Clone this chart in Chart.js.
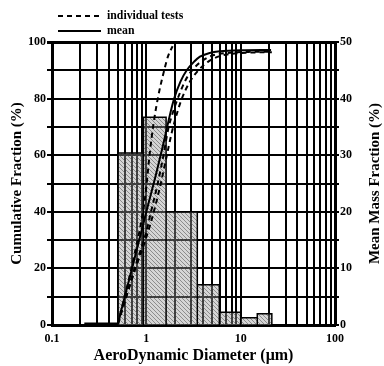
<!DOCTYPE html>
<html>
<head>
<meta charset="utf-8">
<script src="https://cdn.jsdelivr.net/npm/chart.js@4.4.1/dist/chart.umd.min.js"></script>
<style>
  html, body { margin: 0; padding: 0; background: #fff; }
</style>
</head>
<body>
<canvas id="chart" width="384" height="366"></canvas>
<script>
// mass fraction histogram: bin edges (um) and mass fraction per bin (%)
const binEdges = [0.5, 0.93, 1.62, 3.47, 5.94, 10, 15, 21.4];
const massFraction = [30.4, 36.7, 20, 7.1, 2.25, 1.3, 2.0];

// cumulative fraction curves: diameter (um) and cumulative fraction (%)
const meanD = [0.22, 0.5, 0.53, 0.7, 1.0, 1.25, 1.5, 1.95, 2.3, 2.68, 3.2, 3.7, 4.7, 6, 10, 21];
const meanF = [0.5, 0.5, 3.9, 19.5, 40, 52.5, 63.4, 79.5, 86, 90, 93, 94.8, 96.1, 96.7, 97.1, 97.2];

const testAD = [0.5, 0.75, 0.97, 1.09, 1.19, 1.34, 1.52, 1.7, 1.9];
const testAF = [0.5, 25, 45, 61, 71, 81, 89, 95, 98.5];

const testBD = [0.5, 0.75, 1.0, 1.12, 1.3, 1.52, 1.7, 1.95, 2.15, 2.6, 3.15, 4.0, 5.1, 7.7, 12, 21.4];
const testBF = [0.5, 20, 33, 40, 49, 60, 69, 76, 80, 86.5, 90.5, 93.6, 95.3, 96.2, 96.5, 96.6];

const testCD = [0.5, 0.75, 1.0, 1.2, 1.4, 1.65, 1.86, 2.1, 2.38, 2.9, 3.56, 4.5, 6, 9, 14, 21.4];
const testCF = [0.5, 19, 31, 40, 49, 60, 68, 74.5, 80, 86, 90, 93, 95, 96, 96.3, 96.4];

// tick labels
const xTickLabels = [0.1, 1, 10, 100];
const yTickLabels = [0, 20, 40, 60, 80, 100];
const y2TickLabels = [0, 10, 20, 30, 40, 50];
const legendLabels = ['individual tests', 'mean'];

const FONT = "'Liberation Serif', 'Times New Roman', serif";
Chart.defaults.font.family = FONT;
Chart.defaults.font.weight = 'bold';
Chart.defaults.color = '#000';

function pts(xs, ys) {
  return xs.map((x, i) => ({x: x, y: ys[i]}));
}

// outline of the histogram bars, one rectangle per bin
const histPts = [];
massFraction.forEach((h, i) => {
  histPts.push({x: binEdges[i], y: 0}, {x: binEdges[i], y: h},
               {x: binEdges[i + 1], y: h}, {x: binEdges[i + 1], y: 0});
});

// light grey hatch, see-through so the grid stays black on top of it
const pc = document.createElement('canvas');
pc.width = 4; pc.height = 4;
const pg = pc.getContext('2d');
pg.fillStyle = 'rgba(150,150,150,0.4)';
pg.fillRect(0, 0, 4, 4);
pg.strokeStyle = 'rgba(80,80,80,0.55)';
pg.lineWidth = 1;
pg.beginPath();
pg.moveTo(0, 0); pg.lineTo(4, 4);
pg.moveTo(-1, 3); pg.lineTo(1, 5);
pg.moveTo(3, -1); pg.lineTo(5, 1);
pg.stroke();
const hatch = pg.createPattern(pc, 'repeat');

// grid positions for the log axis: 1..9 in each decade
const xGrid = [];
[0.1, 1, 10].forEach(d => {
  for (let k = 1; k <= 9; k++) xGrid.push(Number((k * d).toPrecision(3)));
});
xGrid.push(100);

const curve = {
  showLine: true,
  pointRadius: 0,
  borderColor: '#000',
  borderWidth: 2,
  fill: false,
  cubicInterpolationMode: 'monotone',
  yAxisID: 'y',
  order: 0
};

const extras = {
  id: 'extras',
  afterDraw(chart) {
    const ctx = chart.ctx;
    const a = chart.chartArea;
    ctx.save();
    ctx.strokeStyle = '#000';
    ctx.lineWidth = 2;
    ctx.setLineDash([5, 4]);
    ctx.beginPath(); ctx.moveTo(58, 16); ctx.lineTo(101, 16); ctx.stroke();
    ctx.setLineDash([]);
    ctx.beginPath(); ctx.moveTo(58, 31); ctx.lineTo(101, 31); ctx.stroke();
    ctx.fillStyle = '#000';
    ctx.font = 'bold 11.8px ' + FONT;
    ctx.textBaseline = 'middle';
    ctx.fillText(legendLabels[0], 107, 16);
    ctx.fillText(legendLabels[1], 107, 31);
    // right axis title reads bottom to top like the left one
    ctx.translate(375, (a.top + a.bottom) / 2);
    ctx.rotate(-Math.PI / 2);
    ctx.font = 'bold 15px ' + FONT;
    ctx.textAlign = 'center';
    ctx.fillText('Mean Mass Fraction (%)', 0, 0);
    ctx.restore();
  }
};

new Chart(document.getElementById('chart'), {
  type: 'scatter',
  data: {
    datasets: [
      Object.assign({}, curve, {label: 'mean', data: pts(meanD, meanF)}),
      Object.assign({}, curve, {label: 'test 1', data: pts(testAD, testAF), borderDash: [5, 4]}),
      Object.assign({}, curve, {label: 'test 2', data: pts(testBD, testBF), borderDash: [5, 4]}),
      Object.assign({}, curve, {label: 'test 3', data: pts(testCD, testCF), borderDash: [5, 4]}),
      {
        label: 'mass fraction',
        data: histPts,
        showLine: true,
        pointRadius: 0,
        borderColor: '#000',
        borderWidth: 1.5,
        backgroundColor: hatch,
        fill: 'origin',
        tension: 0,
        yAxisID: 'y2',
        order: 10
      }
    ]
  },
  options: {
    responsive: false,
    animation: false,
    devicePixelRatio: 1,
    layout: { padding: { top: 42, left: 0, right: 0, bottom: 0 } },
    plugins: { legend: { display: false }, tooltip: { enabled: false } },
    scales: {
      x: {
        type: 'logarithmic',
        position: 'bottom',
        min: 0.1,
        max: 100,
        afterBuildTicks: s => { s.ticks = xGrid.map(v => ({value: v})); },
        afterFit: s => { s.height = 41; },
        ticks: {
          autoSkip: false,
          maxRotation: 0,
          padding: 7,
          font: { size: 12, weight: 'bold' },
          callback: v => xTickLabels.includes(v) ? String(v) : ''
        },
        grid: {
          color: '#000',
          lineWidth: c => c.tick && c.tick.value === 100 ? 3 : 2,
          drawTicks: false
        },
        border: { color: '#000', width: 3 },
        title: {
          display: true,
          text: 'AeroDynamic Diameter (\u03bcm)',
          font: { size: 16, weight: 'bold' },
          padding: { top: 0, bottom: 1 }
        }
      },
      y: {
        position: 'left',
        min: 0,
        max: 100,
        afterFit: s => { s.width = 52; },
        ticks: {
          stepSize: 10,
          padding: 1,
          font: { size: 12, weight: 'bold' },
          callback: v => yTickLabels.includes(v) ? v : ''
        },
        grid: {
          color: '#000',
          lineWidth: c => c.tick && c.tick.value === 100 ? 3 : 2,
          tickLength: 5
        },
        border: { color: '#000', width: 3 },
        title: {
          display: true,
          text: 'Cumulative Fraction (%)',
          font: { size: 15, weight: 'bold' },
          padding: { top: 8, bottom: 0 }
        }
      },
      y2: {
        position: 'right',
        min: 0,
        max: 50,
        afterFit: s => { s.width = 49; },
        ticks: {
          stepSize: 5,
          padding: 1,
          font: { size: 12, weight: 'bold' },
          callback: v => y2TickLabels.includes(v) ? v : ''
        },
        grid: {
          color: '#000',
          lineWidth: 2,
          drawOnChartArea: false,
          tickLength: 4
        },
        border: { color: '#000', width: 3 }
      }
    }
  },
  plugins: [extras]
});
</script>
</body>
</html>
